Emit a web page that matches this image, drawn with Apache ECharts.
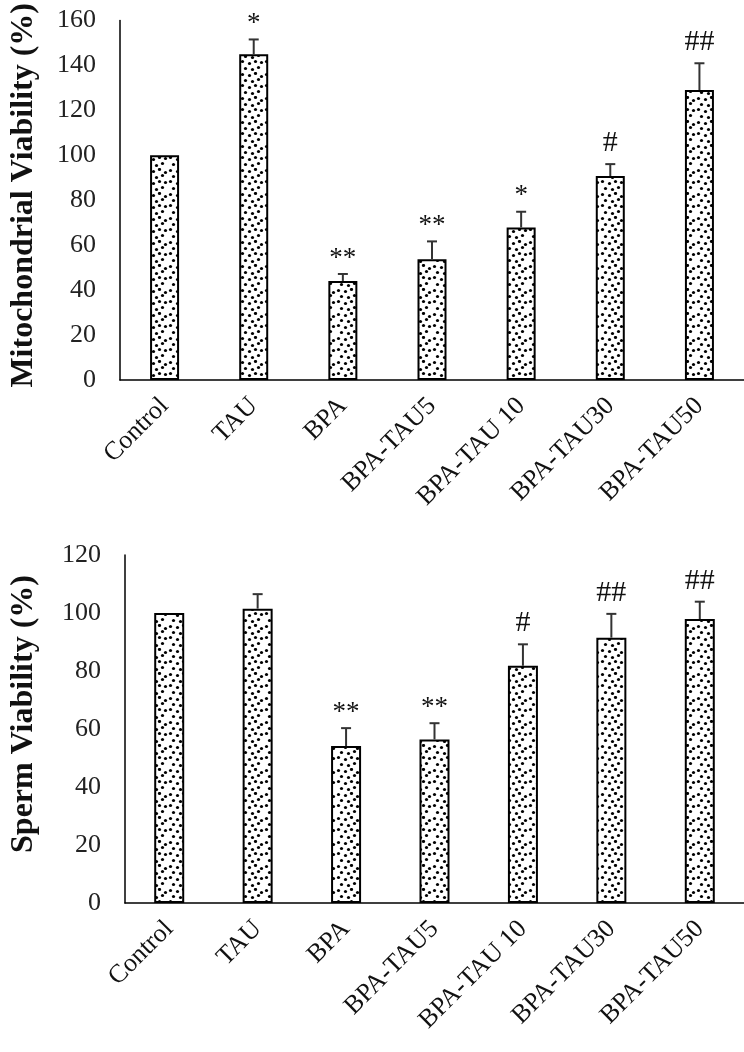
<!DOCTYPE html>
<html>
<head>
<meta charset="utf-8">
<script src="https://cdn.jsdelivr.net/npm/echarts@6/dist/echarts.min.js"></script>
<style>
html,body{margin:0;padding:0;background:#fff;}
#chart{width:744px;height:1052px;}
</style>
</head>
<body>
<div id="chart"></div>
<script>
const categories = ['Control', 'TAU', 'BPA', 'BPA-TAU5', 'BPA-TAU 10', 'BPA-TAU30', 'BPA-TAU50'];

const mitoValues = [100, 145, 44.1, 53.8, 67.9, 90.8, 129.1];
const mitoErrors = [0, 6.6, 3.1, 7.9, 7.0, 5.3, 11.9];
const mitoMarks  = ['', '*', '**', '**', '*', '#', '##'];

const spermValues = [100, 101.5, 54.1, 56.4, 81.8, 91.5, 97.9];
const spermErrors = [0, 5.0, 6.2, 5.6, 7.4, 8.2, 6.0];
const spermMarks  = ['', '', '**', '**', '#', '##', '##'];

const mitoAxis  = { min: 0, max: 160, interval: 20 };
const spermAxis = { min: 0, max: 120, interval: 20 };

const mitoTitle  = 'Mitochondrial Viability (%)';
const spermTitle = 'Sperm Viability (%)';

// dotted fill pattern
function makePattern() {
  const c = document.createElement('canvas');
  c.width = 24; c.height = 24;
  const g = c.getContext('2d');
  g.fillStyle = '#fff';
  g.fillRect(0, 0, 24, 24);
  g.fillStyle = '#000';
  const dots = [[2,2],[9,3],[15,1],[21,4],
                [5,8],[12,9],[18,7],
                [2,13],[9,15],[15,13],[21,14],
                [5,20],[12,21],[18,19]];
  dots.forEach(function (d) {
    g.beginPath();
    g.arc(d[0] + 0.5, d[1] + 0.5, 1.6, 0, Math.PI * 2);
    g.fill();
  });
  return c;
}
const pattern = makePattern();
const FONT = '"Liberation Serif", "Times New Roman", serif';

function errRenderer(marks) {
  return function (params, api) {
    const i = api.value(0), v = api.value(1), e = api.value(2);
    const base = api.coord([i, v]);
    const top = api.coord([i, v + e]);
    const children = [];
    if (e > 0) {
      children.push({ type: 'line', shape: { x1: base[0], y1: base[1], x2: top[0], y2: top[1] },
        style: { stroke: '#333', lineWidth: 2 } });
      children.push({ type: 'line', shape: { x1: top[0] - 5, y1: top[1], x2: top[0] + 5, y2: top[1] },
        style: { stroke: '#333', lineWidth: 2 } });
    }
    const m = marks[params.dataIndex];
    if (m) {
      const isHash = m.indexOf('#') >= 0;
      children.push({ type: 'text', style: {
        text: m, x: top[0], y: top[1] - (isHash ? 6 : 2),
        align: 'center', verticalAlign: 'bottom',
        fontSize: isHash ? 30 : 27, fontFamily: FONT, fill: '#111' } });
    }
    return { type: 'group', children: children };
  };
}

function xAxisCfg(gridIndex) {
  return {
    type: 'category', gridIndex: gridIndex, data: categories,
    axisTick: { show: false },
    axisLine: { lineStyle: { color: '#000', width: 1.5 } },
    axisLabel: { rotate: 45, interval: 0, fontSize: 26, fontFamily: FONT, color: '#111', margin: 22 }
  };
}
function yAxisCfg(gridIndex, ax, name, gap, pad) {
  return {
    type: 'value', gridIndex: gridIndex, min: ax.min, max: ax.max, interval: ax.interval,
    splitLine: { show: false },
    axisTick: { show: false },
    axisLine: { show: true, lineStyle: { color: '#000', width: 1.5 } },
    axisLabel: { fontSize: 26, fontFamily: FONT, color: '#222', margin: 24 },
    name: name, nameLocation: 'middle', nameGap: gap,
    nameTextStyle: { fontSize: 32, fontWeight: 'bold', fontFamily: FONT, color: '#111', padding: pad }
  };
}
function barSeries(idx, values, bw) {
  return {
    type: 'bar', xAxisIndex: idx, yAxisIndex: idx, data: values, barWidth: bw,
    itemStyle: { color: { image: pattern, repeat: 'repeat' }, borderColor: '#000', borderWidth: 2 },
    silent: true
  };
}
function errSeries(idx, values, errors, marks) {
  return {
    type: 'custom', xAxisIndex: idx, yAxisIndex: idx, z: 5, clip: false,
    renderItem: errRenderer(marks),
    data: values.map(function (v, i) { return [i, v, errors[i]]; }),
    silent: true
  };
}

const chart = echarts.init(document.getElementById('chart'), null, { renderer: 'canvas' });
chart.setOption({
  animation: false,
  backgroundColor: '#fff',
  grid: [
    { left: 117, top: 17, width: 629, height: 363 },
    { left: 123, top: 555, width: 623, height: 348 }
  ],
  xAxis: [xAxisCfg(0), xAxisCfg(1)],
  yAxis: [yAxisCfg(0, mitoAxis, mitoTitle, 80, [0, 0, 0, 10]), yAxisCfg(1, spermAxis, spermTitle, 85, [0, 0, 0, 30])],
  series: [
    barSeries(0, mitoValues, 29),
    errSeries(0, mitoValues, mitoErrors, mitoMarks),
    barSeries(1, spermValues, 30),
    errSeries(1, spermValues, spermErrors, spermMarks)
  ]
});
</script>
</body>
</html>
